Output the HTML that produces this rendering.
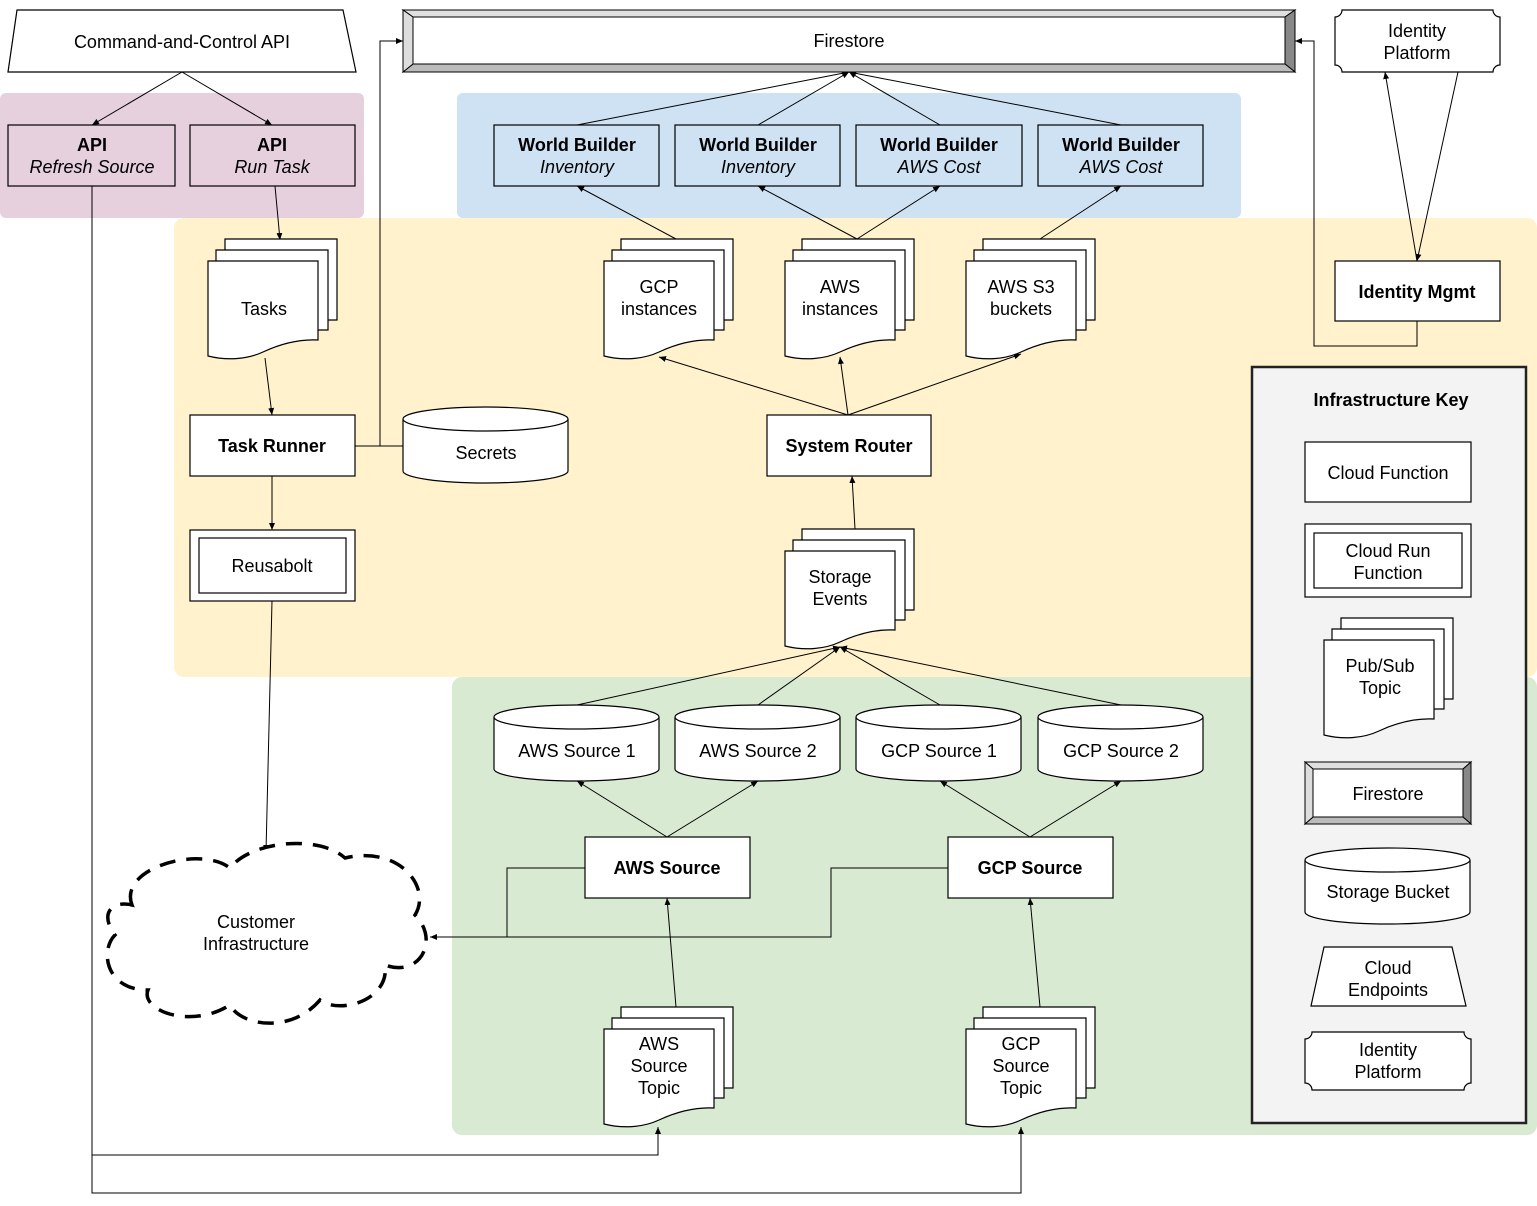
<!DOCTYPE html>
<html><head><meta charset="utf-8"><style>
html,body{margin:0;padding:0;background:#fff}
svg{display:block}
text{font-family:"Liberation Sans",Arial,sans-serif;font-size:18px;fill:#000}
.b{font-weight:bold}
.i{font-style:italic}
</style></head><body>
<svg width="1537" height="1206" viewBox="0 0 1537 1206" xmlns="http://www.w3.org/2000/svg">
<defs>
<marker id="a" markerWidth="8" markerHeight="8" refX="7" refY="4" orient="auto" markerUnits="userSpaceOnUse">
<path d="M0,1 L7,4 L0,7 Z" fill="#000"/></marker>
<g id="topic" stroke="#000" stroke-width="1.2" fill="#fff">
<path d="M17,0 H129 V81 H17 Z"/>
<path d="M8,11 H120 V91 H8 Z"/>
<path d="M0,22 H110 V101 C90,100 70,106 55,113 C40,120 20,122 0,117 Z"/>
</g>
<g id="cyl" stroke="#000" stroke-width="1.2" fill="#fff">
<path d="M0,12 V64 A82.5,12 0 0 0 165,64 V12"/>
<ellipse cx="82.5" cy="12" rx="82.5" ry="12"/>
</g>
</defs>

<rect x="0" y="93" width="364" height="125" rx="6" fill="#e6d0de"/>
<rect x="457" y="93" width="784" height="125" rx="6" fill="#cfe2f3"/>
<rect x="174" y="218" width="1363" height="459" rx="10" fill="#fff2cc"/>
<rect x="452" y="677" width="1085" height="458" rx="10" fill="#d9ead3"/>

<g stroke="#000" stroke-width="1" fill="none">
<line x1="182" y1="72" x2="92" y2="125" marker-end="url(#a)"/>
<line x1="182" y1="72" x2="272" y2="125" marker-end="url(#a)"/>
<line x1="275" y1="186" x2="280" y2="240" marker-end="url(#a)"/>
<line x1="265" y1="358" x2="272" y2="415" marker-end="url(#a)"/>
<line x1="355" y1="446" x2="403" y2="446"/>
<polyline points="380,446 380,41 403,41" marker-end="url(#a)"/>
<line x1="272" y1="476" x2="272" y2="530" marker-end="url(#a)"/>
<line x1="272" y1="601" x2="266" y2="852" marker-end="url(#a)"/>
<polyline points="92,186 92,1193 1021,1193 1021,1127" marker-end="url(#a)"/>
<polyline points="92,1155 658,1155 658,1127" marker-end="url(#a)"/>
<line x1="676" y1="239" x2="577" y2="186" marker-end="url(#a)"/>
<line x1="857" y1="239" x2="758" y2="186" marker-end="url(#a)"/>
<line x1="857" y1="239" x2="940" y2="186" marker-end="url(#a)"/>
<line x1="1040" y1="239" x2="1121" y2="186" marker-end="url(#a)"/>
<line x1="577" y1="125" x2="849" y2="72" marker-end="url(#a)"/>
<line x1="758" y1="125" x2="849" y2="72" marker-end="url(#a)"/>
<line x1="940" y1="125" x2="849" y2="72" marker-end="url(#a)"/>
<line x1="1121" y1="125" x2="849" y2="72" marker-end="url(#a)"/>
<line x1="848" y1="415" x2="659" y2="357" marker-end="url(#a)"/>
<line x1="848" y1="415" x2="840" y2="357" marker-end="url(#a)"/>
<line x1="848" y1="415" x2="1021" y2="354" marker-end="url(#a)"/>
<line x1="855" y1="529" x2="852" y2="476" marker-end="url(#a)"/>
<line x1="577" y1="705" x2="840" y2="647" marker-end="url(#a)"/>
<line x1="758" y1="705" x2="840" y2="647" marker-end="url(#a)"/>
<line x1="940" y1="705" x2="840" y2="647" marker-end="url(#a)"/>
<line x1="1121" y1="705" x2="840" y2="647" marker-end="url(#a)"/>
<line x1="667" y1="837" x2="577" y2="781" marker-end="url(#a)"/>
<line x1="667" y1="837" x2="758" y2="781" marker-end="url(#a)"/>
<line x1="1030" y1="837" x2="940" y2="781" marker-end="url(#a)"/>
<line x1="1030" y1="837" x2="1121" y2="781" marker-end="url(#a)"/>
<line x1="676" y1="1007" x2="667" y2="898" marker-end="url(#a)"/>
<line x1="1040" y1="1007" x2="1030" y2="898" marker-end="url(#a)"/>
<polyline points="585,868 507,868 507,937"/>
<polyline points="948,868 831,868 831,937 430,937" marker-end="url(#a)"/>
<line x1="1417" y1="261" x2="1385" y2="72" marker-end="url(#a)"/>
<line x1="1458" y1="72" x2="1417" y2="261" marker-end="url(#a)"/>
<polyline points="1417,321 1417,346 1314,346 1314,41 1295,41" marker-end="url(#a)"/>
</g>

<path d="M17,10 H343 L356,72 H8 Z" fill="#fff" stroke="#000" stroke-width="1.2"/>
<text x="182" y="48" text-anchor="middle">Command-and-Control API</text>

<g stroke="#000" stroke-width="1">
<rect x="403" y="10" width="892" height="62" fill="#fff"/>
<path d="M403,10 H1295 L1285,17 H413 Z" fill="#e0e0e0"/>
<path d="M1295,10 V72 L1285,64 V17 Z" fill="#888"/>
<path d="M403,72 H1295 L1285,64 H413 Z" fill="#bbb"/>
<path d="M403,10 V72 L413,64 V17 Z" fill="#ddd"/>
<rect x="413" y="17" width="872" height="47" fill="#fff"/>
</g>
<text x="849" y="47" text-anchor="middle">Firestore</text>

<path d="M1342,10 H1493 A7,7 0 0 0 1500,17 V65 A7,7 0 0 0 1493,72 H1342 A7,7 0 0 0 1335,65 V17 A7,7 0 0 0 1342,10 Z" fill="#fff" stroke="#000" stroke-width="1.2"/>
<text x="1417" y="37" text-anchor="middle">Identity</text>
<text x="1417" y="59" text-anchor="middle">Platform</text>

<g fill="none" stroke="#000" stroke-width="1.2">
<rect x="8" y="125" width="167" height="61"/>
<rect x="190" y="125" width="165" height="61"/>
<rect x="494" y="125" width="165" height="61"/>
<rect x="675" y="125" width="165" height="61"/>
<rect x="856" y="125" width="166" height="61"/>
<rect x="1038" y="125" width="165" height="61"/>
</g>
<text x="92" y="151" text-anchor="middle" class="b">API</text>
<text x="92" y="173" text-anchor="middle" class="i">Refresh Source</text>
<text x="272" y="151" text-anchor="middle" class="b">API</text>
<text x="272" y="173" text-anchor="middle" class="i">Run Task</text>
<text x="577" y="151" text-anchor="middle" class="b">World Builder</text>
<text x="577" y="173" text-anchor="middle" class="i">Inventory</text>
<text x="758" y="151" text-anchor="middle" class="b">World Builder</text>
<text x="758" y="173" text-anchor="middle" class="i">Inventory</text>
<text x="939" y="151" text-anchor="middle" class="b">World Builder</text>
<text x="939" y="173" text-anchor="middle" class="i">AWS Cost</text>
<text x="1121" y="151" text-anchor="middle" class="b">World Builder</text>
<text x="1121" y="173" text-anchor="middle" class="i">AWS Cost</text>

<use href="#topic" x="208" y="239"/>
<text x="264" y="315" text-anchor="middle">Tasks</text>
<use href="#topic" x="604" y="239"/>
<text x="659" y="293" text-anchor="middle">GCP</text><text x="659" y="315" text-anchor="middle">instances</text>
<use href="#topic" x="785" y="239"/>
<text x="840" y="293" text-anchor="middle">AWS</text><text x="840" y="315" text-anchor="middle">instances</text>
<use href="#topic" x="966" y="239"/>
<text x="1021" y="293" text-anchor="middle">AWS S3</text><text x="1021" y="315" text-anchor="middle">buckets</text>
<use href="#topic" x="785" y="529"/>
<text x="840" y="583" text-anchor="middle">Storage</text><text x="840" y="605" text-anchor="middle">Events</text>
<use href="#topic" x="604" y="1007"/>
<text x="659" y="1050" text-anchor="middle">AWS</text><text x="659" y="1072" text-anchor="middle">Source</text><text x="659" y="1094" text-anchor="middle">Topic</text>
<use href="#topic" x="966" y="1007"/>
<text x="1021" y="1050" text-anchor="middle">GCP</text><text x="1021" y="1072" text-anchor="middle">Source</text><text x="1021" y="1094" text-anchor="middle">Topic</text>

<g fill="#fff" stroke="#000" stroke-width="1.2">
<rect x="190" y="415" width="165" height="61"/>
<rect x="767" y="415" width="164" height="61"/>
<rect x="190" y="530" width="165" height="71"/>
<rect x="199" y="538" width="147" height="55"/>
<rect x="1335" y="261" width="165" height="60"/>
<rect x="585" y="837" width="165" height="61"/>
<rect x="948" y="837" width="165" height="61"/>
</g>
<text x="272" y="452" text-anchor="middle" class="b">Task Runner</text>
<text x="849" y="452" text-anchor="middle" class="b">System Router</text>
<text x="272" y="572" text-anchor="middle">Reusabolt</text>
<text x="1417" y="298" text-anchor="middle" class="b">Identity Mgmt</text>
<text x="667" y="874" text-anchor="middle" class="b">AWS Source</text>
<text x="1030" y="874" text-anchor="middle" class="b">GCP Source</text>

<use href="#cyl" x="403" y="407"/>
<text x="486" y="459" text-anchor="middle">Secrets</text>
<use href="#cyl" x="494" y="705"/>
<text x="577" y="757" text-anchor="middle">AWS Source 1</text>
<use href="#cyl" x="675" y="705"/>
<text x="758" y="757" text-anchor="middle">AWS Source 2</text>
<use href="#cyl" x="856" y="705"/>
<text x="939" y="757" text-anchor="middle">GCP Source 1</text>
<use href="#cyl" x="1038" y="705"/>
<text x="1121" y="757" text-anchor="middle">GCP Source 2</text>

<path d="M132,905 C118,868 200,845 230,868 C252,840 320,835 345,858 C400,845 432,888 415,915 C440,940 420,978 385,965 C390,1000 340,1015 320,1000 C290,1035 240,1025 230,1005 C190,1030 140,1010 148,990 C105,990 100,950 115,935 C100,915 110,900 132,905 Z" fill="#fff" stroke="#000" stroke-width="3.5" stroke-dasharray="16 11"/>
<text x="256" y="928" text-anchor="middle">Customer</text>
<text x="256" y="950" text-anchor="middle">Infrastructure</text>

<rect x="1252" y="367" width="274" height="756" fill="#f3f3f3" stroke="#222" stroke-width="2.5"/>
<text x="1391" y="406" text-anchor="middle" class="b">Infrastructure Key</text>
<g fill="#fff" stroke="#000" stroke-width="1.2">
<rect x="1305" y="442" width="166" height="60"/>
<rect x="1305" y="524" width="166" height="73"/>
<rect x="1314" y="533" width="148" height="55"/>
</g>
<text x="1388" y="479" text-anchor="middle">Cloud Function</text>
<text x="1388" y="557" text-anchor="middle">Cloud Run</text>
<text x="1388" y="579" text-anchor="middle">Function</text>
<use href="#topic" x="1324" y="618"/>
<text x="1380" y="672" text-anchor="middle">Pub/Sub</text><text x="1380" y="694" text-anchor="middle">Topic</text>
<g stroke="#000" stroke-width="1">
<rect x="1305" y="762" width="166" height="62" fill="#fff"/>
<path d="M1305,762 H1471 L1463,769 H1313 Z" fill="#e0e0e0"/>
<path d="M1471,762 V824 L1463,817 V769 Z" fill="#888"/>
<path d="M1305,824 H1471 L1463,817 H1313 Z" fill="#bbb"/>
<path d="M1305,762 V824 L1313,817 V769 Z" fill="#ddd"/>
<rect x="1313" y="769" width="150" height="48" fill="#fff"/>
</g>
<text x="1388" y="800" text-anchor="middle">Firestore</text>
<use href="#cyl" x="1305" y="848"/>
<text x="1388" y="898" text-anchor="middle">Storage Bucket</text>
<path d="M1324,947 H1452 L1466,1006 H1311 Z" fill="#fff" stroke="#000" stroke-width="1.2"/>
<text x="1388" y="974" text-anchor="middle">Cloud</text>
<text x="1388" y="996" text-anchor="middle">Endpoints</text>
<path d="M1312,1032 H1464 A7,7 0 0 0 1471,1039 V1083 A7,7 0 0 0 1464,1090 H1312 A7,7 0 0 0 1305,1083 V1039 A7,7 0 0 0 1312,1032 Z" fill="#fff" stroke="#000" stroke-width="1.2"/>
<text x="1388" y="1056" text-anchor="middle">Identity</text>
<text x="1388" y="1078" text-anchor="middle">Platform</text>
</svg>
</body></html>
